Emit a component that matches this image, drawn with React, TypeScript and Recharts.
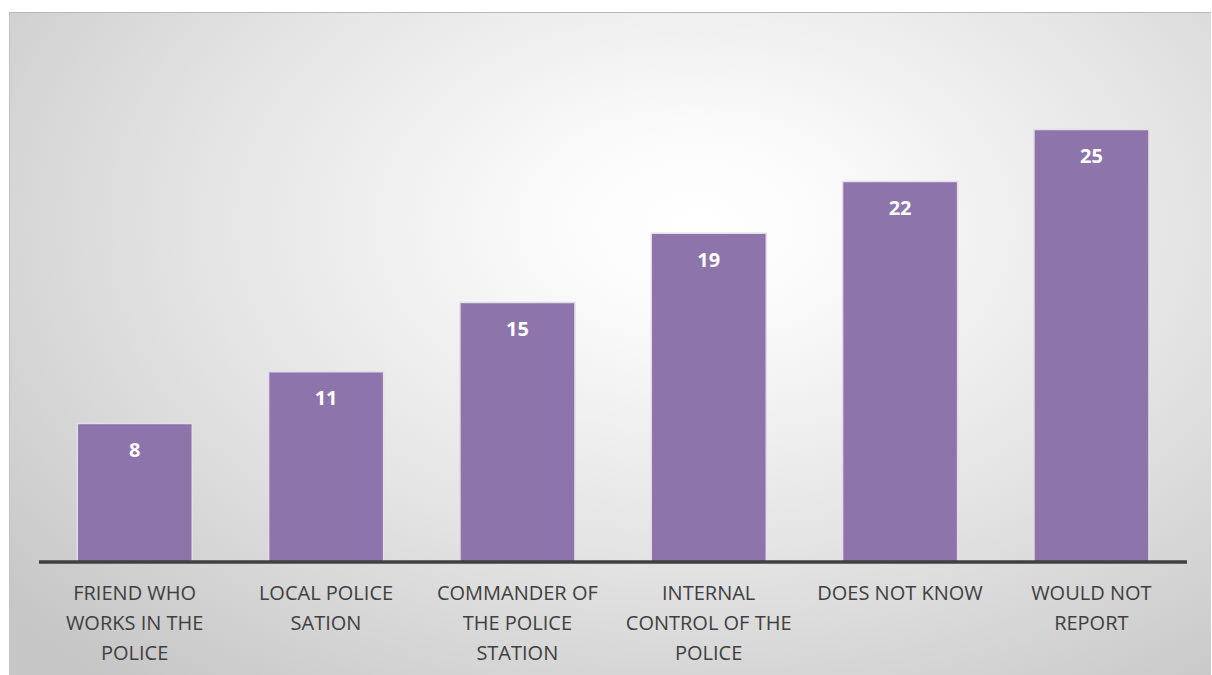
import { BarChart, Bar, XAxis, YAxis, LabelList } from "recharts";

const categories = [
  "FRIEND WHO WORKS IN THE POLICE",
  "LOCAL POLICE SATION",
  "COMMANDER OF THE POLICE STATION",
  "INTERNAL CONTROL OF THE POLICE",
  "DOES NOT KNOW",
  "WOULD NOT REPORT",
];
const values = [8, 11, 15, 19, 22, 25];

const data = categories.map((name, i) => ({ name, value: values[i] }));

function wrap(text: string, max: number) {
  const words = text.split(" ");
  const lines: string[] = [];
  let cur = "";
  words.forEach((w) => {
    const next = cur ? cur + " " + w : w;
    if (next.length > max && cur) {
      lines.push(cur);
      cur = w;
    } else {
      cur = next;
    }
  });
  if (cur) lines.push(cur);
  return lines;
}

function CategoryTick(props: any) {
  const { x, y, payload } = props;
  const lines = wrap(payload.value, 14);
  return (
    <text
      x={x}
      y={y}
      textAnchor="middle"
      fill="#404040"
      fontSize={20}
      fontFamily="'Open Sans', sans-serif"
    >
      {lines.map((l, i) => (
        <tspan key={i} x={x} dy={i === 0 ? 38 : 30}>
          {l}
        </tspan>
      ))}
    </text>
  );
}

export default function App() {
  return (
    <div
      style={{
        position: "absolute",
        left: 9,
        top: 12,
        width: 1202,
        height: 663,
        borderTop: "1px solid #b8b8b8",
        borderLeft: "1px solid #c0c0c0",
        boxSizing: "border-box",
        background:
          "radial-gradient(ellipse 75% 90% at 57% 32%, #ffffff 0%, #fbfbfb 15%, #e4e4e4 55%, #c6c6c6 100%)",
      }}
    >
      <BarChart
        width={1201}
        height={662}
        data={data}
        margin={{ top: 30, right: 24, left: 29, bottom: 0 }}
        barCategoryGap="20%"
      >
        <XAxis
          dataKey="name"
          height={113}
          interval={0}
          tickLine={false}
          tickSize={0}
          tickMargin={0}
          axisLine={{ stroke: "#404040", strokeWidth: 3.5 }}
          tick={<CategoryTick />}
        />
        <YAxis hide domain={[0, 30]} />
        <Bar
          dataKey="value"
          fill="#8d74ab"
          stroke="#e2dde8"
          strokeWidth={1.5}
          isAnimationActive={false}
        >
          <LabelList
            dataKey="value"
            position="insideTop"
            offset={19}
            fill="#ffffff"
            fontSize={20}
            fontWeight="bold"
            fontFamily="'Open Sans', sans-serif"
          />
        </Bar>
      </BarChart>
    </div>
  );
}
